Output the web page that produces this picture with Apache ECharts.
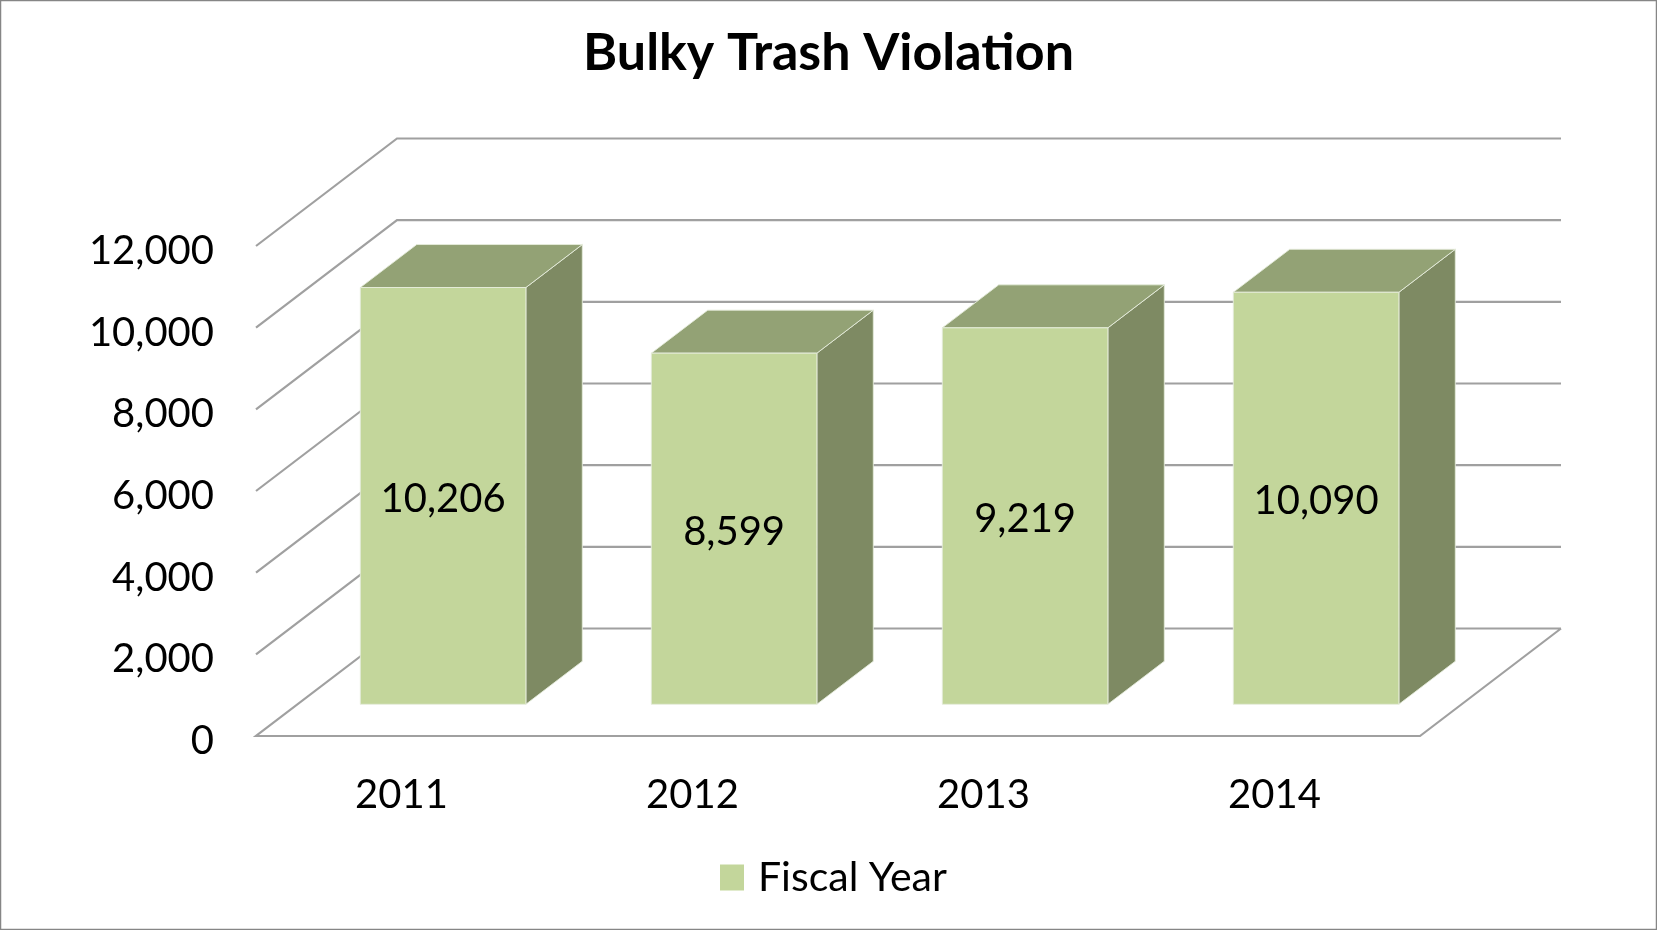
<!DOCTYPE html>
<html>
<head>
<meta charset="utf-8">
<script src="https://cdn.jsdelivr.net/npm/echarts@6/dist/echarts.min.js"></script>
<style>
  html, body { margin: 0; padding: 0; background: #fff; }
  #con { width: 1657px; height: 930px; }
</style>
</head>
<body>
<div id="con"></div>
<script>
// 数据
var years = ['2011', '2012', '2013', '2014'];
var violations = [10206, 8599, 9219, 10090];
var yTicks = [0, 2000, 4000, 6000, 8000, 10000, 12000];
var seriesName = 'Fiscal Year';

// 3D 斜投影的深度偏移 (像素)
var DX = 141, DY = -107.5;
var BAR_FRONT = 0.295, BAR_DEPTH = 0.4, BAR_WIDTH = 0.569;
var FONT = 'Lato';

function addCommas(v) {
	return String(v).replace(/\B(?=(\d{3})+(?!\d))/g, ',');
}

var myChart = echarts.init(document.getElementById('con'));

// 背景网格 (后墙 + 左侧斜线 + 地板)
function renderGrid(params, api) {
	var v = api.value(0);
	var cs = params.coordSys;
	var left = cs.x, right = cs.x + cs.width;
	var y = api.coord([0, v])[1];
	var pts;
	if (v === 0) {
		pts = [[right + DX, y + DY], [left + DX, y + DY], [left, y], [right, y], [right + DX, y + DY]];
	} else {
		pts = [[left, y], [left + DX, y + DY], [right + DX, y + DY]];
	}
	return {
		type: 'polyline',
		shape: { points: pts },
		style: { stroke: '#a0a0a0', lineWidth: 2.2, fill: null }
	};
}

// 立体柱子
function renderBar(params, api) {
	var i = api.value(0);
	var v = api.value(1);
	var base = api.coord([i, 0]);
	var top = api.coord([i, v]);
	var band = api.size([1, 0])[0];
	var w = band * BAR_WIDTH;
	var ox = DX * BAR_FRONT, oy = DY * BAR_FRONT;
	var bx = DX * BAR_DEPTH, by = DY * BAR_DEPTH;
	var x0 = base[0] - w / 2 + ox, x1 = x0 + w;
	var yb = base[1] + oy, yt = top[1] + oy;
	var edge = 'rgba(230,236,220,0.9)';
	return {
		type: 'group',
		children: [
			{
				type: 'polygon',
				shape: { points: [[x1, yt], [x1 + bx, yt + by], [x1 + bx, yb + by], [x1, yb]] },
				style: { fill: '#7e8a63', stroke: edge, lineWidth: 1 }
			},
			{
				type: 'polygon',
				shape: { points: [[x0, yt], [x1, yt], [x1 + bx, yt + by], [x0 + bx, yt + by]] },
				style: { fill: '#93a275', stroke: edge, lineWidth: 1 }
			},
			{
				type: 'rect',
				shape: { x: x0, y: yt, width: w, height: yb - yt },
				style: { fill: '#c3d69b', stroke: edge, lineWidth: 1 }
			},
			{
				type: 'text',
				style: {
					x: (x0 + x1) / 2, y: (yt + yb) / 2 + 3,
					text: addCommas(v),
					fill: '#000', font: '40px ' + FONT,
					textAlign: 'center', textVerticalAlign: 'middle'
				}
			}
		]
	};
}

var gridData = yTicks.map(function (t) { return [t]; });
var barData = violations.map(function (v, i) { return [i, v]; });

var option = {
	animation: false,
	backgroundColor: '#fff',
	title: {
		text: 'Bulky Trash Violation',
		left: 'center',
		top: 22,
		textStyle: { fontFamily: FONT, fontWeight: 'bold', fontSize: 52, color: '#000' }
	},
	legend: {
		data: [seriesName],
		left: 715,
		top: 852,
		icon: 'rect',
		itemWidth: 24,
		itemHeight: 26,
		textStyle: { fontFamily: FONT, fontSize: 41, color: '#000', padding: [0, 0, 0, 9] }
	},
	grid: { left: 256, right: 237, top: 246, bottom: 194 },
	xAxis: {
		type: 'category',
		data: years,
		axisLine: { show: false },
		axisTick: { show: false },
		axisLabel: { fontFamily: FONT, fontSize: 40, color: '#000', margin: 39, lineHeight: 40 }
	},
	yAxis: {
		type: 'value',
		min: 0,
		max: 12000,
		interval: 2000,
		axisLine: { show: false },
		axisTick: { show: false },
		splitLine: { show: false },
		axisLabel: {
			margin: 42,
			formatter: function (v) { return '{v|' + addCommas(v) + '}'; },
			rich: {
				v: { fontFamily: FONT, fontSize: 40, color: '#000', padding: [10, 0, 0, 0] }
			}
		}
	},
	series: [
		{
			name: 'grid3d',
			type: 'custom',
			renderItem: renderGrid,
			data: gridData,
			encode: { y: 0 },
			silent: true,
			z: 1
		},
		{
			name: seriesName,
			type: 'custom',
			renderItem: renderBar,
			data: barData,
			encode: { x: 0, y: 1 },
			itemStyle: { color: '#c3d69b' },
			z: 2
		}
	],
	graphic: [{
		type: 'rect',
		shape: { x: 0.5, y: 0.5, width: 1656, height: 929 },
		style: { fill: null, stroke: '#868686', lineWidth: 1.5 },
		silent: true
	}]
};

myChart.setOption(option);
window.onresize = myChart.resize;
</script>
</body>
</html>
